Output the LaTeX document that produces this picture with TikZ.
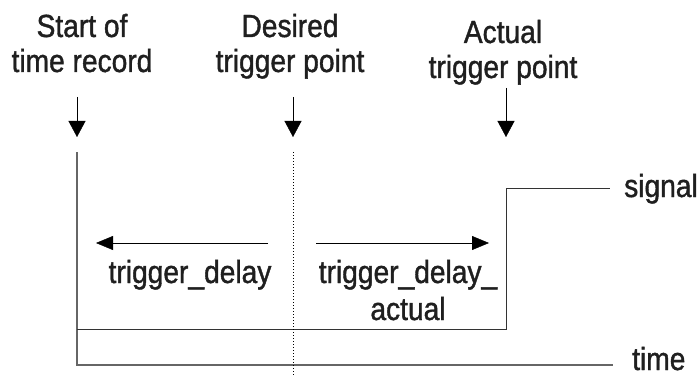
\documentclass[tikz,border=0pt]{standalone}
\usepackage{fontspec}
\setmainfont{Liberation Sans}[FakeStretch=0.88,FakeBold=1.2]
\usepackage{xcolor}
\usetikzlibrary{arrows.meta}

\begin{document}
\begin{tikzpicture}[x=1pt,y=-1pt,
    lbl/.style={align=center,inner sep=0pt,font=\fontsize{32}{35}\selectfont,text=black!88},
    arr/.style={thin,-{Triangle[width=17pt,length=16pt]}}]
    \useasboundingbox (0,0) rectangle (698,377);
    % Labels over the time axis
    \node[lbl,anchor=base] (start) at (82,72) {Start of\\time record};
    \node[lbl,anchor=base] (desired) at (290,72) {Desired\\trigger point};
    \node[lbl,anchor=base] (actual) at (503,78) {Actual\\trigger point};
    \coordinate (0) at (77,97);
    \coordinate (1) at (77,137);
    \coordinate (2) at (293,97);
    \coordinate (3) at (293,137);
    \coordinate (4) at (506,88);
    \coordinate (5) at (506,137);
    \draw[arr] (0) -- (1);
    \draw[arr] (2) -- (3);
    \draw[arr] (4) -- (5);
    % Draw the signal and the time axis
    \coordinate (a) at (77,152);
    \coordinate (b) at (77,365);
    \coordinate (c) at (613,365);
    \coordinate (d) at (77,329);
    \coordinate (e) at (506,329);
    \coordinate (f) at (506,188);
    \coordinate (g) at (610,188);
    \draw[black!60,line width=1.2pt] (a) -- (b) -- (c);
    \draw[black!80,line width=0.9pt] (d) -- (e) -- (f) -- (g);
    \draw[black,thin,dash pattern=on 1pt off 2pt] (293,152) -- (293,377);
    \node[lbl,anchor=base west] (sig) at (624,197) {signal};
    \node[lbl,anchor=base west] (time) at (632,370) {time};
    % Draw the delays
    \coordinate (h) at (268,243);
    \coordinate (i) at (96,243);
    \coordinate (j) at (316,243);
    \coordinate (k) at (489,243);
    \draw[arr,-{Triangle[width=14pt,length=17pt]}] (h) -- (i);
    \draw[arr,-{Triangle[width=14pt,length=17pt]}] (j) -- (k);
    \node[lbl,anchor=base] (dly) at (190,283) {trigger\_delay};
    \node[lbl,anchor=base] (dlyact) at (408,320) {trigger\_delay\_\\[2pt]actual};
\end{tikzpicture}
\end{document}
